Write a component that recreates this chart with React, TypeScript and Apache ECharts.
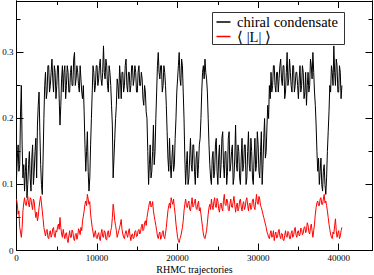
import React, { useEffect, useRef } from "react";
import * as echarts from "echarts";

// trajectory spacing between stored samples
const STEP = 100;

// chiral condensate, one value every STEP trajectories
const chiralCondensate = [
  0.11,0.14, 0.16,0.12, 0.13,0.21, 0.25,0.16, 0.11,0.13, 0.09,0.12, 0.14,0.08, 0.10,0.13, 0.15,0.11, 0.09,0.14,
  0.16,0.10, 0.12,0.15, 0.17,0.11, 0.19,0.22, 0.24,0.18, 0.13,0.10, 0.085,0.14, 0.20,0.25, 0.27,0.23, 0.24,0.28,
  0.28,0.24, 0.25,0.27, 0.29,0.26, 0.24,0.28, 0.27,0.23, 0.25,0.28, 0.28,0.23, 0.19,0.22, 0.26,0.28, 0.24,0.27,
  0.28,0.23, 0.25,0.28, 0.27,0.24, 0.24,0.27, 0.28,0.25, 0.25,0.29, 0.30,0.25, 0.26,0.28, 0.27,0.25, 0.24,0.28,
  0.26,0.24, 0.23,0.25, 0.21,0.16, 0.12,0.15, 0.18,0.12, 0.09,0.11, 0.16,0.20, 0.24,0.28, 0.27,0.24, 0.25,0.28,
  0.28,0.25, 0.26,0.28, 0.29,0.26, 0.25,0.27, 0.31,0.27, 0.26,0.29, 0.28,0.25, 0.24,0.28, 0.27,0.25, 0.22,0.19,
  0.11,0.14, 0.17,0.20, 0.22,0.26, 0.25,0.23, 0.28,0.26, 0.23,0.27, 0.27,0.24, 0.25,0.28, 0.29,0.25, 0.24,0.27,
  0.27,0.24, 0.25,0.28, 0.28,0.25, 0.26,0.28, 0.27,0.24, 0.24,0.27, 0.28,0.25, 0.25,0.27, 0.26,0.23, 0.22,0.25,
  0.24,0.21, 0.20,0.15, 0.10,0.13, 0.16,0.11, 0.12,0.15, 0.19,0.13, 0.15,0.20, 0.24,0.28, 0.30,0.27, 0.26,0.28,
  0.28,0.24, 0.25,0.28, 0.27,0.25, 0.22,0.18, 0.14,0.12, 0.17,0.13, 0.11,0.14, 0.16,0.12, 0.13,0.17, 0.20,0.24,
  0.26,0.28, 0.30,0.26, 0.25,0.29, 0.28,0.24, 0.20,0.14, 0.10,0.13, 0.15,0.10, 0.11,0.14, 0.17,0.13, 0.12,0.16,
  0.16,0.12, 0.10,0.14, 0.15,0.11, 0.13,0.16, 0.17,0.20, 0.24,0.27, 0.28,0.26, 0.29,0.27, 0.26,0.24, 0.20,0.16,
  0.13,0.11, 0.10,0.14, 0.15,0.11, 0.12,0.16, 0.17,0.12, 0.10,0.14, 0.16,0.11, 0.13,0.17, 0.18,0.13, 0.11,0.15,
  0.15,0.10, 0.12,0.17, 0.18,0.12, 0.13,0.15, 0.16,0.10, 0.11,0.14, 0.19,0.13, 0.12,0.16, 0.15,0.11, 0.10,0.14,
  0.17,0.12, 0.13,0.16, 0.16,0.10, 0.11,0.15, 0.18,0.13, 0.12,0.17, 0.15,0.11, 0.10,0.14, 0.17,0.12, 0.13,0.18,
  0.16,0.12, 0.11,0.15, 0.18,0.10, 0.13,0.17, 0.20,0.14, 0.15,0.19, 0.22,0.20, 0.25,0.23, 0.27,0.24, 0.25,0.28,
  0.28,0.25, 0.24,0.27, 0.27,0.24, 0.26,0.28, 0.29,0.26, 0.25,0.28, 0.28,0.23, 0.24,0.27, 0.30,0.25, 0.26,0.29,
  0.27,0.25, 0.24,0.28, 0.28,0.24, 0.25,0.27, 0.27,0.25, 0.23,0.26, 0.28,0.24, 0.25,0.28, 0.27,0.23, 0.24,0.27,
  0.22,0.25, 0.27,0.24, 0.25,0.29, 0.28,0.26, 0.30,0.27, 0.24,0.22, 0.19,0.15, 0.12,0.14, 0.10,0.12, 0.14,0.10,
  0.09,0.12, 0.13,0.10, 0.085,0.11, 0.15,0.18, 0.21,0.25, 0.24,0.28, 0.27,0.25, 0.31,0.27, 0.25,0.29, 0.28,0.24,
  0.24,0.28, 0.27,0.23, 0.25,
];

// <|L|>, same sampling
const polyakovLoop = [
  0.078,0.07, 0.055,0.06, 0.035,0.028, 0.02,0.035, 0.06,0.072, 0.08,0.07, 0.068,0.076, 0.082,0.07, 0.066,0.08, 0.078,0.068,
  0.062,0.078, 0.074,0.06, 0.05,0.058, 0.045,0.052, 0.065,0.075, 0.082,0.072, 0.06,0.048, 0.035,0.028, 0.022,0.03, 0.032,0.02,
  0.018,0.027, 0.03,0.02, 0.024,0.033, 0.035,0.022, 0.02,0.03, 0.028,0.036, 0.04,0.032, 0.05,0.035, 0.025,0.02, 0.032,0.024,
  0.018,0.025, 0.027,0.017, 0.012,0.022, 0.03,0.02, 0.02,0.031, 0.028,0.018, 0.015,0.024, 0.026,0.017, 0.022,0.033, 0.03,0.024,
  0.035,0.03, 0.045,0.052, 0.06,0.07, 0.075,0.068, 0.085,0.078, 0.07,0.074, 0.055,0.045, 0.035,0.028, 0.02,0.026, 0.03,0.02,
  0.018,0.024, 0.027,0.019, 0.015,0.026, 0.032,0.021, 0.02,0.03, 0.028,0.017, 0.016,0.027, 0.03,0.02, 0.022,0.03, 0.035,0.05,
  0.07,0.06, 0.045,0.038, 0.03,0.02, 0.025,0.03, 0.035,0.04, 0.047,0.032, 0.025,0.02, 0.018,0.026, 0.03,0.024, 0.02,0.028,
  0.033,0.022, 0.015,0.024, 0.025,0.018, 0.02,0.029, 0.03,0.021, 0.022,0.03, 0.032,0.025, 0.028,0.036, 0.04,0.03, 0.032,0.042,
  0.045,0.038, 0.05,0.058, 0.065,0.072, 0.075,0.066, 0.068,0.074, 0.06,0.052, 0.045,0.038, 0.03,0.022, 0.018,0.025, 0.028,0.017,
  0.02,0.027, 0.03,0.021, 0.018,0.026, 0.035,0.048, 0.06,0.068, 0.072,0.064, 0.08,0.074, 0.07,0.078, 0.065,0.055, 0.04,0.03,
  0.02,0.015, 0.012,0.018, 0.022,0.028, 0.035,0.045, 0.06,0.07, 0.078,0.068, 0.065,0.072, 0.075,0.062, 0.06,0.07, 0.08,0.066,
  0.068,0.074, 0.078,0.064, 0.062,0.07, 0.075,0.06, 0.065,0.055, 0.045,0.035, 0.025,0.02, 0.018,0.024, 0.03,0.042, 0.055,0.065,
  0.07,0.062, 0.078,0.068, 0.062,0.074, 0.08,0.066, 0.065,0.079, 0.075,0.063, 0.058,0.07, 0.072,0.064, 0.06,0.076, 0.085,0.07,
  0.068,0.078, 0.075,0.062, 0.06,0.071, 0.078,0.066, 0.065,0.074, 0.082,0.07, 0.058,0.067, 0.072,0.06, 0.064,0.075, 0.078,0.066,
  0.06,0.07, 0.074,0.062, 0.066,0.076, 0.08,0.068, 0.06,0.071, 0.072,0.062, 0.065,0.077, 0.078,0.066, 0.062,0.074, 0.085,0.072,
  0.07,0.082, 0.078,0.068, 0.065,0.06, 0.055,0.05, 0.045,0.04, 0.035,0.028, 0.025,0.02, 0.018,0.026, 0.03,0.02, 0.022,0.03,
  0.015,0.024, 0.028,0.019, 0.02,0.028, 0.032,0.022, 0.018,0.026, 0.025,0.016, 0.015,0.023, 0.03,0.021, 0.02,0.029, 0.027,0.018,
  0.018,0.026, 0.03,0.02, 0.022,0.031, 0.035,0.024, 0.02,0.028, 0.03,0.022, 0.024,0.034, 0.032,0.024, 0.026,0.035, 0.036,0.027,
  0.03,0.042, 0.038,0.028, 0.025,0.035, 0.04,0.03, 0.02,0.03, 0.04,0.055, 0.065,0.072, 0.075,0.068, 0.068,0.078, 0.08,0.07,
  0.07,0.078, 0.085,0.072, 0.075,0.068, 0.06,0.05, 0.04,0.032, 0.025,0.02, 0.018,0.028, 0.025,0.038, 0.048,0.03, 0.02,0.026,
  0.03,0.018, 0.022,0.03, 0.035,
];

const seriesNames = ["chiral condensate", "\u27E8 |L| \u27E9"];
const seriesColors = ["#000000", "#ff0000"];

const X_MAX = 44200;
const Y_MAX = 0.378;
const X_MAJOR = 10000;
const X_MINOR = 5000;
const Y_MAJOR = 0.1;
const Y_MINOR = 0.05;
const X_TITLE = "RHMC trajectories";

const FONT = "Liberation Serif";

function makeAxis(kind: "x" | "y", position: string, interval: number, tickLen: number, labels: boolean, name?: string) {
  return {
    type: "value",
    position,
    min: 0,
    max: kind === "x" ? X_MAX : Y_MAX,
    interval,
    name: name || "",
    nameLocation: "middle",
    nameGap: 13.5,
    nameMoveOverlap: false,
    nameTextStyle: { color: "#000", fontFamily: FONT, fontSize: 10 },
    axisLine: { show: true, onZero: false, lineStyle: { color: "#000", width: 1 } },
    axisTick: { show: true, inside: true, length: tickLen, lineStyle: { color: "#000", width: 1 } },
    minorTick: { show: false },
    axisLabel: {
      show: labels,
      showMaxLabel: false,
      color: "#000",
      fontFamily: FONT,
      fontSize: 9,
      margin: 3,
      formatter: (v: number) => (kind === "y" ? (v === 0 ? "0" : v.toFixed(1)) : String(Math.round(v))),
    },
    splitLine: { show: false },
  };
}

// legend drawn as graphic elements (box, line samples, labels)
function legendGraphic() {
  const box = { left: 212.5, top: 12.5, width: 132, height: 32 };
  const rowY = [22, 36.5];
  const elements: any[] = [
    {
      type: "rect",
      shape: { x: box.left, y: box.top, width: box.width, height: box.height },
      style: { fill: "#ffffff", stroke: "#333333", lineWidth: 1 },
    },
  ];
  seriesNames.forEach((name, k) => {
    elements.push({
      type: "line",
      shape: { x1: box.left + 4, y1: rowY[k], x2: box.left + 18, y2: rowY[k] },
      style: { stroke: seriesColors[k], lineWidth: 1.5 },
    });
    elements.push({
      type: "text",
      x: box.left + 24.5,
      y: rowY[k],
      style: {
        text: name,
        fill: "#000",
        font: "14.5px 'Liberation Serif'",
        verticalAlign: "middle",
      },
    });
  });
  return [{ type: "group", z: 100, children: elements }];
}

export default function App() {
  const ref = useRef<HTMLDivElement>(null);
  useEffect(() => {
    if (!ref.current) return;
    const chart = echarts.init(ref.current, undefined, { renderer: "svg" });
    const toPairs = (vals: number[]) => vals.map((v, i) => [i * STEP, v]);
    chart.setOption({
      animation: false,
      backgroundColor: "#ffffff",
      grid: { left: 16.5, right: 1.5, top: 1, bottom: 24.5, containLabel: false, outerBoundsMode: "none" },
      xAxis: [
        makeAxis("x", "bottom", X_MAJOR, 7, true, X_TITLE),
        makeAxis("x", "bottom", X_MINOR, 4, false),
        makeAxis("x", "top", X_MAJOR, 7, false),
        makeAxis("x", "top", X_MINOR, 4, false),
      ],
      yAxis: [
        makeAxis("y", "left", Y_MAJOR, 7, true),
        makeAxis("y", "left", Y_MINOR, 4, false),
        makeAxis("y", "right", Y_MAJOR, 7, false),
        makeAxis("y", "right", Y_MINOR, 4, false),
      ],
      series: [chiralCondensate, polyakovLoop].map((vals, k) => ({
        type: "line",
        name: seriesNames[k],
        xAxisIndex: 0,
        yAxisIndex: 0,
        data: toPairs(vals),
        showSymbol: false,
        symbol: "none",
        color: seriesColors[k],
        lineStyle: { color: seriesColors[k], width: 1 },
        emphasis: { disabled: true },
      })),
      graphic: legendGraphic(),
    });
    return () => chart.dispose();
  }, []);
  return <div ref={ref} style={{ width: 374, height: 275, position: "absolute", left: 0, top: 0 }} />;
}
